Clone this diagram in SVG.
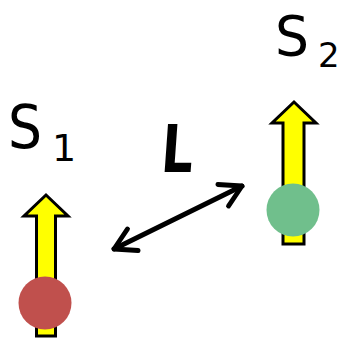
<svg xmlns="http://www.w3.org/2000/svg" width="339" height="341" viewBox="0 0 339 341">
<defs>
<style>
.spin{fill:#ffff00;stroke:#000;stroke-width:3;stroke-linejoin:miter}
.lbl{font-family:"DejaVu Sans","Liberation Sans",sans-serif;fill:#000}
</style>
<marker id="chev" viewBox="0 0 10 10" refX="8" refY="5" markerWidth="6" markerHeight="6" orient="auto-start-reverse" markerUnits="strokeWidth">
<path d="M1,1 L8,5 L1,9" fill="none" stroke="#000" stroke-width="1.6" stroke-linecap="round" stroke-linejoin="round"/>
</marker>
</defs>
<rect width="339" height="341" fill="#fff"/>
<g id="s1">
<polygon class="spin" points="46,195 68,216 55.5,216 55.5,336 36.5,336 36.5,216 24,216"/>
<circle cx="45" cy="303" r="26.5" fill="#c0504d"/>
<text class="lbl" x="8" y="148" font-size="60" textLength="34" lengthAdjust="spacingAndGlyphs">S</text>
<text class="lbl" x="52" y="161" font-size="38">1</text>
</g>
<g id="s2">
<polygon class="spin" points="294,102 316,123 304,123 304,244 283,244 283,123 272,123"/>
<circle cx="293" cy="210" r="26.5" fill="#70bf8c"/>
<text class="lbl" x="275" y="55" font-size="55" textLength="34" lengthAdjust="spacingAndGlyphs">S</text>
<text class="lbl" x="318" y="67" font-size="34">2</text>
</g>
<g id="label-L">
<text class="lbl" x="0" y="0" font-size="66" font-weight="bold" transform="translate(160,172) skewX(-4)" textLength="32" lengthAdjust="spacingAndGlyphs">L</text>
</g>
<g id="connectors">
<line x1="114" y1="249" x2="242" y2="186" stroke="#000" stroke-width="5" stroke-linecap="round" marker-start="url(#chev)" marker-end="url(#chev)"/>
</g>
</svg>
